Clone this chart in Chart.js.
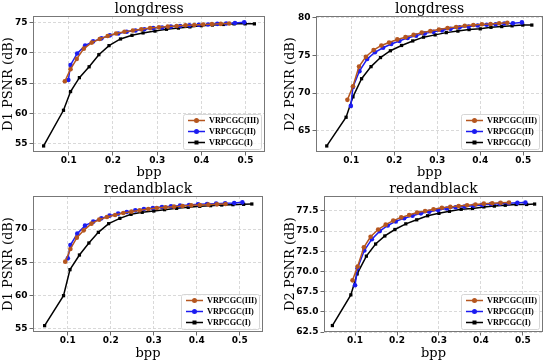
<!DOCTYPE html>
<html>
<head>
<meta charset="utf-8">
<script src="https://cdn.jsdelivr.net/npm/chart.js@4/dist/chart.umd.min.js"></script>
<style>
  html, body { margin: 0; padding: 0; background: #fff; }
  body { width: 550px; height: 361px; position: relative; overflow: hidden; }
  canvas { position: absolute; }
</style>
</head>
<body>
<canvas id="c1" width="275" height="180" style="left:0;top:0"></canvas>
<canvas id="c2" width="275" height="180" style="left:275px;top:0"></canvas>
<canvas id="c3" width="275" height="181" style="left:0;top:180px"></canvas>
<canvas id="c4" width="275" height="181" style="left:275px;top:180px"></canvas>
<script>
const names = ["VRPCGC(III)", "VRPCGC(II)", "VRPCGC(I)"];
const bppTicks = [0.1, 0.2, 0.3, 0.4, 0.5];

// longdress
const ldBppIII = [0.091, 0.104, 0.118, 0.134, 0.152, 0.17, 0.188, 0.207, 0.226, 0.245, 0.264, 0.284, 0.304, 0.324, 0.344, 0.364, 0.384, 0.404, 0.424, 0.444, 0.463];
const ldBppII = [0.099, 0.104, 0.119, 0.137, 0.155, 0.174, 0.193, 0.212, 0.231, 0.251, 0.271, 0.291, 0.311, 0.331, 0.352, 0.373, 0.394, 0.415, 0.436, 0.456, 0.476, 0.497];
const ldBppI = [0.043, 0.088, 0.104, 0.124, 0.146, 0.168, 0.191, 0.217, 0.243, 0.268, 0.295, 0.321, 0.348, 0.374, 0.4, 0.425, 0.45, 0.474, 0.499, 0.52];
const ldD1III = [65.3, 67.3, 69.0, 70.7, 71.7, 72.3, 72.8, 73.2, 73.5, 73.7, 73.9, 74.1, 74.25, 74.35, 74.45, 74.55, 74.6, 74.7, 74.75, 74.8, 74.85];
const ldD1II = [65.5, 68.0, 69.9, 71.2, 71.9, 72.4, 72.9, 73.2, 73.5, 73.7, 73.9, 74.1, 74.2, 74.35, 74.45, 74.55, 74.65, 74.7, 74.8, 74.85, 74.95, 75.05];
const ldD1I = [54.6, 60.5, 63.6, 65.9, 67.7, 69.7, 71.2, 72.3, 72.9, 73.3, 73.6, 73.9, 74.1, 74.3, 74.5, 74.6, 74.7, 74.8, 74.8, 74.8];
const ldD2III = [69.1, 70.9, 73.5, 74.8, 75.7, 76.3, 76.7, 77.1, 77.4, 77.7, 78.0, 78.2, 78.4, 78.6, 78.75, 78.9, 79.0, 79.1, 79.15, 79.25, 79.3];
const ldD2II = [68.3, 70.8, 72.9, 74.5, 75.4, 76.0, 76.5, 76.9, 77.3, 77.6, 77.9, 78.1, 78.3, 78.5, 78.7, 78.8, 78.95, 79.05, 79.1, 79.2, 79.25, 79.35];
const ldD2I = [63.0, 66.8, 69.5, 71.9, 73.5, 74.7, 75.6, 76.3, 76.9, 77.4, 77.7, 78.0, 78.2, 78.4, 78.5, 78.7, 78.8, 78.9, 79.0, 79.0];

// redandblack
const rbBppIII = [0.094, 0.106, 0.121, 0.137, 0.155, 0.173, 0.191, 0.21, 0.229, 0.248, 0.267, 0.287, 0.307, 0.327, 0.347, 0.367, 0.387, 0.407, 0.427, 0.447, 0.467];
const rbBppII = [0.1, 0.106, 0.122, 0.14, 0.159, 0.178, 0.197, 0.217, 0.237, 0.257, 0.277, 0.298, 0.319, 0.34, 0.361, 0.382, 0.403, 0.424, 0.445, 0.466, 0.487, 0.506];
const rbBppI = [0.046, 0.09, 0.105, 0.127, 0.149, 0.171, 0.195, 0.221, 0.247, 0.273, 0.3, 0.325, 0.353, 0.38, 0.407, 0.432, 0.458, 0.484, 0.509, 0.528];
const rbD1III = [65.1, 67.0, 68.7, 69.8, 70.8, 71.4, 71.8, 72.1, 72.4, 72.6, 72.8, 73.0, 73.15, 73.25, 73.35, 73.45, 73.55, 73.6, 73.65, 73.7, 73.75];
const rbD1II = [65.6, 67.6, 69.3, 70.5, 71.1, 71.6, 72.0, 72.3, 72.55, 72.8, 73.0, 73.15, 73.3, 73.4, 73.5, 73.6, 73.7, 73.75, 73.8, 73.85, 73.9, 74.0];
const rbD1I = [55.5, 60.0, 63.9, 66.1, 67.9, 69.5, 70.8, 71.6, 72.2, 72.5, 72.7, 72.9, 73.1, 73.25, 73.4, 73.5, 73.6, 73.65, 73.7, 73.75];
const rbD2III = [68.9, 70.6, 73.0, 74.3, 75.2, 75.8, 76.3, 76.7, 77.0, 77.3, 77.5, 77.7, 77.9, 78.0, 78.1, 78.2, 78.3, 78.4, 78.45, 78.5, 78.55];
const rbD2II = [68.3, 70.4, 72.6, 74.0, 75.0, 75.7, 76.2, 76.6, 76.9, 77.2, 77.4, 77.6, 77.8, 77.95, 78.05, 78.15, 78.25, 78.35, 78.4, 78.45, 78.5, 78.55];
const rbD2I = [63.3, 67.1, 69.7, 71.9, 73.4, 74.4, 75.2, 75.9, 76.4, 76.9, 77.2, 77.45, 77.7, 77.8, 78.0, 78.1, 78.2, 78.3, 78.3, 78.35];

const d1Ticks = [55, 60, 65, 70, 75];
const ldD2Ticks = [65, 70, 75, 80];
const rbD1Ticks = [55, 60, 65, 70];
const rbD2Ticks = [62.5, 65.0, 67.5, 70.0, 72.5, 75.0, 77.5];

const colors = ["#b5561f", "#1c1cf0", "#000000"];
const styles = ["circle", "circle", "rect"];

function pts(xs, ys) {
  return xs.map((x, i) => ({ x, y: ys[i] }));
}

// frame round the axes + matplotlib style legend in the lower right corner
const axesDecor = {
  id: "axesDecor",
  afterDatasetsDraw(chart) {
    const { ctx, chartArea: a } = chart;
    ctx.save();
    ctx.strokeStyle = "#777";
    ctx.lineWidth = 1;
    ctx.setLineDash([]);
    ctx.strokeRect(Math.round(a.left) + 0.5, Math.round(a.top) + 0.5,
      Math.round(a.width) - 1, Math.round(a.height) - 1);

    const w = 78, h = 35, row = 11;
    const x0 = Math.round(a.right - w - 4), y0 = Math.round(a.bottom - h - 3);
    ctx.beginPath();
    ctx.roundRect(x0 + 0.5, y0 + 0.5, w, h, 2);
    ctx.fillStyle = "rgba(255,255,255,0.8)";
    ctx.fill();
    ctx.strokeStyle = "#d6d6d6";
    ctx.stroke();

    ctx.font = "bold 8.2px 'Liberation Serif'";
    ctx.textBaseline = "middle";
    chart.data.datasets.forEach((ds, i) => {
      const y = y0 + 6.5 + i * row;
      ctx.strokeStyle = ds.borderColor;
      ctx.fillStyle = ds.borderColor;
      ctx.lineWidth = 1.5;
      ctx.beginPath();
      ctx.moveTo(x0 + 5, y);
      ctx.lineTo(x0 + 22, y);
      ctx.stroke();
      if (ds.pointStyle === "rect") {
        ctx.fillRect(x0 + 11.5, y - 2, 4, 4);
      } else {
        ctx.beginPath();
        ctx.arc(x0 + 13.5, y, 2.5, 0, Math.PI * 2);
        ctx.fill();
      }
      ctx.fillStyle = "#000";
      ctx.fillText(ds.label, x0 + 26, y + 0.5);
    });
    ctx.restore();
  }
};

function makeChart(id, cfg) {
  const series = [cfg.III, cfg.II, cfg.I];
  const tickFont = { family: "DejaVu Sans", size: 9, weight: "bold" };
  const grid = {
    color: "#cfcfcf",
    lineWidth: 0.8,
    tickLength: 3.5,
    tickColor: "#444",
    tickWidth: 0.8,
    tickBorderDash: []
  };
  return new Chart(document.getElementById(id), {
    type: "line",
    data: {
      datasets: series.map((s, i) => ({
        label: names[i],
        data: pts(s[0], s[1]),
        borderColor: colors[i],
        backgroundColor: colors[i],
        borderWidth: 1.5,
        pointStyle: styles[i],
        pointRadius: 2.3,
        pointBorderWidth: 0,
        tension: 0,
        fill: false
      }))
    },
    options: {
      responsive: false,
      animation: false,
      events: [],
      layout: { padding: { left: 0, right: cfg.padRight, top: 0, bottom: 0 } },
      plugins: {
        legend: { display: false },
        tooltip: { enabled: false },
        title: {
          display: true,
          text: cfg.title,
          fullSize: false,
          color: "#000",
          font: { family: "DejaVu Serif", size: 14, weight: "normal", lineHeight: 1.0 },
          padding: { top: 2.5, bottom: -0.5 }
        }
      },
      scales: {
        x: {
          type: "linear",
          min: cfg.xMin,
          max: cfg.xMax,
          afterBuildTicks: (s) => { s.ticks = bppTicks.map((v) => ({ value: v })); },
          afterFit: (s) => { s.height = cfg.xHeight; },
          ticks: {
            color: "#000",
            font: tickFont,
            padding: 0,
            maxRotation: 0,
            callback: (v) => v.toFixed(1)
          },
          grid: grid,
          border: { display: false, dash: [3, 2] },
          title: {
            display: true,
            text: "bpp",
            color: "#000",
            font: { family: "DejaVu Serif", size: 13 },
            padding: { top: 0, bottom: 0 }
          }
        },
        y: {
          type: "linear",
          min: cfg.yMin,
          max: cfg.yMax,
          afterBuildTicks: (s) => { s.ticks = cfg.yTicks.map((v) => ({ value: v })); },
          afterFit: (s) => { s.width = cfg.yWidth; },
          ticks: {
            color: "#000",
            font: tickFont,
            padding: 2,
            callback: (v) => v.toFixed(cfg.yDigits)
          },
          grid: grid,
          border: { display: false, dash: [3, 2] },
          title: {
            display: true,
            text: cfg.yLabel,
            color: "#000",
            font: { family: "DejaVu Serif", size: 13 },
            padding: { top: cfg.yTitlePad, bottom: 0 }
          }
        }
      }
    },
    plugins: [axesDecor]
  });
}

makeChart("c1", {
  title: "longdress", yLabel: "D1 PSNR (dB)",
  III: [ldBppIII, ldD1III], II: [ldBppII, ldD1II], I: [ldBppI, ldD1I],
  xMin: 0.019, xMax: 0.544, yMin: 53.6, yMax: 76.1, yTicks: d1Ticks, yDigits: 0,
  padRight: 10, yWidth: 33, xHeight: 28, yTitlePad: 1
});
makeChart("c2", {
  title: "longdress", yLabel: "D2 PSNR (dB)",
  III: [ldBppIII, ldD2III], II: [ldBppII, ldD2II], I: [ldBppI, ldD2I],
  xMin: 0.018, xMax: 0.546, yMin: 62.2, yMax: 80.2, yTicks: ldD2Ticks, yDigits: 0,
  padRight: 7, yWidth: 41, xHeight: 28, yTitlePad: 7.5
});
makeChart("c3", {
  title: "redandblack", yLabel: "D1 PSNR (dB)",
  III: [rbBppIII, rbD1III], II: [rbBppII, rbD1II], I: [rbBppI, rbD1I],
  xMin: 0.019, xMax: 0.554, yMin: 54.55, yMax: 74.95, yTicks: rbD1Ticks, yDigits: 0,
  padRight: 12, yWidth: 33, xHeight: 29, yTitlePad: 1
});
makeChart("c4", {
  title: "redandblack", yLabel: "D2 PSNR (dB)",
  III: [rbBppIII, rbD2III], II: [rbBppII, rbD2II], I: [rbBppI, rbD2I],
  xMin: 0.026, xMax: 0.548, yMin: 62.5, yMax: 79.35, yTicks: rbD2Ticks, yDigits: 1,
  padRight: 7, yWidth: 49, xHeight: 29, yTitlePad: 7.5
});
</script>
</body>
</html>
